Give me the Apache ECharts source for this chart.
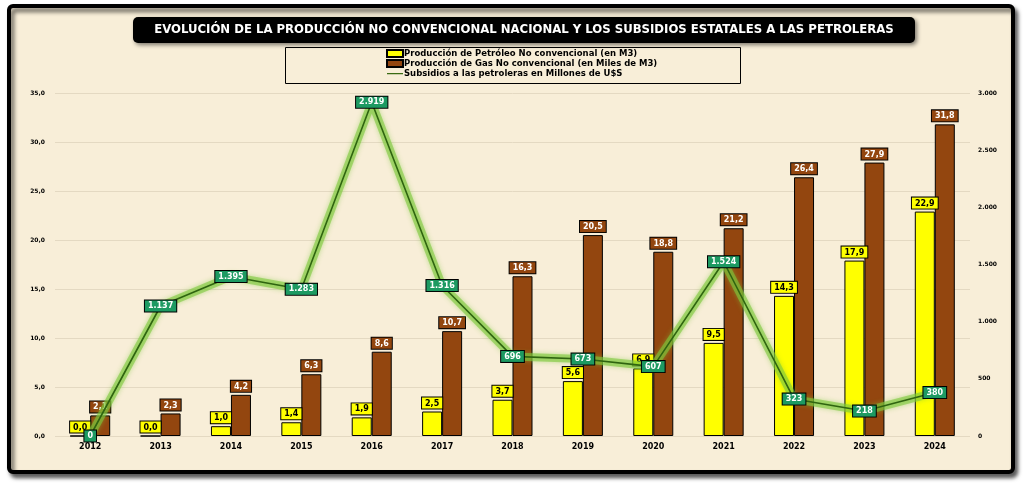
<!DOCTYPE html>
<html>
<head>
<meta charset="utf-8">
<script src="https://cdn.jsdelivr.net/npm/echarts@6/dist/echarts.min.js"></script>
<style>
  html, body { margin: 0; padding: 0; background: #ffffff; }
  #chart { width: 1024px; height: 485px; }
</style>
</head>
<body>
<div id="chart"></div>
<script>
// Data
const years = ['2012', '2013', '2014', '2015', '2016', '2017', '2018', '2019', '2020', '2021', '2022', '2023', '2024']
const oilProduction = [0.0, 0.0, 1.0, 1.4, 1.9, 2.5, 3.7, 5.6, 6.9, 9.5, 14.3, 17.9, 22.9]
const gasProduction = [2.1, 2.3, 4.2, 6.3, 8.6, 10.7, 16.3, 20.5, 18.8, 21.2, 26.4, 27.9, 31.8]
const subsidies = [0, 1137, 1395, 1283, 2919, 1316, 696, 673, 607, 1524, 323, 218, 380]

const oilName = 'Producción de Petróleo No convencional (en M3)'
const gasName = 'Producción de Gas No convencional (en Miles de M3)'
const subsidyName = 'Subsidios a las petroleras en Millones de U$S'

const FONT = 'DejaVu Sans'

// Spanish number formats: 12,3 and 1.234
function decimalEs (v) {
  return Number(v).toFixed(1).replace('.', ',')
}
function thousandsEs (v) {
  return String(Math.round(v)).replace(/\B(?=(\d{3})+(?!\d))/g, '.')
}

const chart = echarts.init(document.getElementById('chart'), null, { renderer: 'canvas' })

function boxLabel (bg, fg) {
  return {
    show: true,
    color: fg,
    fontFamily: FONT,
    fontWeight: 'bold',
    fontSize: 8,
    backgroundColor: bg,
    borderColor: '#000000',
    borderWidth: 1,
    padding: [2, 3, 1, 3]
  }
}

// thin line icon for the legend (points at top/bottom keep the box 16x7)
const lineIcon = 'path://M0,0L0,0Z M0,3L16,3L16,4.3L0,4.3Z M0,7L0,7Z'

const option = {
  animation: false,
  backgroundColor: 'transparent',
  graphic: [
    // outer frame
    {
      type: 'rect',
      z: -10,
      shape: { x: 9, y: 6, width: 1004, height: 466, r: 4 },
      style: {
        fill: '#f8eed8',
        stroke: '#000000',
        lineWidth: 4,
        shadowBlur: 4,
        shadowOffsetX: 3,
        shadowOffsetY: 4,
        shadowColor: 'rgba(0,0,0,0.6)'
      }
    },
    // title box
    {
      type: 'group',
      z: 10,
      children: [
        {
          type: 'rect',
          shape: { x: 133, y: 17, width: 782, height: 26, r: 5 },
          style: { fill: '#000000', shadowBlur: 4, shadowOffsetX: 2, shadowOffsetY: 2, shadowColor: 'rgba(0,0,0,0.5)' }
        },
        {
          type: 'text',
          x: 524,
          y: 30,
          style: {
            text: 'EVOLUCIÓN DE LA PRODUCCIÓN NO CONVENCIONAL NACIONAL Y LOS SUBSIDIOS ESTATALES A LAS PETROLERAS',
            fill: '#ffffff',
            font: 'bold 13px "DejaVu Sans Condensed"',
            align: 'center',
            verticalAlign: 'middle'
          }
        }
      ]
    },
    // legend box
    {
      type: 'rect',
      z: 1,
      shape: { x: 285.5, y: 47.5, width: 455, height: 36 },
      style: { fill: 'transparent', stroke: '#000000', lineWidth: 1 }
    }
  ],
  legend: {
    orient: 'vertical',
    left: 386,
    top: 49,
    itemGap: 1,
    itemWidth: 16,
    itemHeight: 7,
    padding: 0,
    textStyle: { fontFamily: FONT, fontWeight: 'bold', fontSize: 8.5, color: '#000000', padding: [0, 0, 0, -4] },
    data: [
      { name: oilName, icon: 'rect' },
      { name: gasName, icon: 'rect' },
      { name: subsidyName, icon: lineIcon, itemStyle: { color: '#3a6b14', borderWidth: 0 } }
    ]
  },
  grid: { left: 55, right: 54, top: 93, bottom: 49 },
  xAxis: {
    type: 'category',
    data: years,
    axisLine: { show: false },
    axisTick: { show: false },
    axisLabel: { fontFamily: FONT, fontWeight: 'bold', fontSize: 8, color: '#000000', margin: 7 }
  },
  yAxis: [
    {
      type: 'value',
      min: 0,
      max: 35,
      interval: 5,
      axisLine: { show: false },
      axisTick: { show: false },
      splitLine: { lineStyle: { color: '#e4d9c2', width: 1 } },
      axisLabel: { fontFamily: FONT, fontWeight: 'bold', fontSize: 6, color: '#000000', margin: 10, formatter: decimalEs }
    },
    {
      type: 'value',
      min: 0,
      max: 3000,
      interval: 500,
      axisLine: { show: false },
      axisTick: { show: false },
      splitLine: { show: false },
      axisLabel: { fontFamily: FONT, fontWeight: 'bold', fontSize: 6, color: '#000000', margin: 8, formatter: thousandsEs }
    }
  ],
  series: [
    {
      name: oilName,
      type: 'bar',
      data: oilProduction,
      barWidth: 20,
      barGap: '0%',
      itemStyle: { color: '#ffff00', borderColor: '#000000', borderWidth: 1 },
      label: Object.assign(boxLabel('#ffff00', '#000000'), {
        position: 'top',
        distance: 3,
        formatter: p => decimalEs(p.value)
      })
    },
    {
      name: gasName,
      type: 'bar',
      data: gasProduction,
      barWidth: 20,
      barGap: '0%',
      itemStyle: { color: '#93460f', borderColor: '#000000', borderWidth: 1 },
      label: Object.assign(boxLabel('#93460f', '#ffffff'), {
        position: 'top',
        distance: 3,
        formatter: p => decimalEs(p.value)
      })
    },
    // soft green glow under the subsidies line
    {
      name: 'glow',
      type: 'line',
      yAxisIndex: 1,
      data: subsidies,
      symbol: 'none',
      silent: true,
      z: 3,
      lineStyle: { color: 'rgba(125,200,60,0.6)', width: 8, shadowBlur: 5, shadowColor: 'rgba(125,200,60,0.75)' }
    },
    {
      name: subsidyName,
      type: 'line',
      yAxisIndex: 1,
      data: subsidies,
      symbol: 'rect',
      symbolSize: 1,
      z: 4,
      itemStyle: { color: '#3a6b14' },
      lineStyle: { color: '#2f6410', width: 1.6 },
      label: Object.assign(boxLabel('#1d9a62', '#ffffff'), {
        position: 'inside',
        formatter: p => thousandsEs(p.value)
      })
    }
  ]
}

chart.setOption(option)
</script>
</body>
</html>
